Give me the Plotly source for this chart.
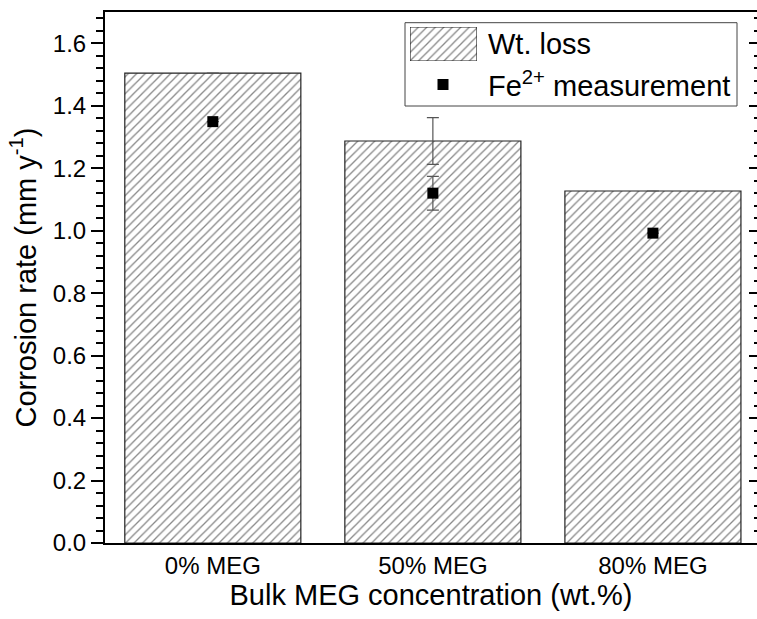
import plotly.graph_objects as go

# ---- data ----
categories = ["0% MEG", "50% MEG", "80% MEG"]
wt_loss = [1.504, 1.287, 1.127]
wt_loss_err = [None, 0.075, None]
fe_meas = [1.349, 1.120, 0.992]
fe_meas_err = [None, 0.054, None]
y_ticks = [0.0, 0.2, 0.4, 0.6, 0.8, 1.0, 1.2, 1.4, 1.6]

FONT = "Liberation Sans, Arial, sans-serif"
W, H = 757, 619
L, R, T, B = 105, 0, 12, 76
PW, PH = W - L - R, H - T - B


def px(xp):
    return (xp - L) / PW


def py(yp):
    return (H - B - yp) / PH


hatch = dict(shape="/", size=6, solidity=0.22, fgcolor="#111111", bgcolor="white")

fig = go.Figure()
fig.add_bar(
    x=categories, y=wt_loss, width=0.8,
    marker=dict(color="white", line=dict(color="#222222", width=1.2), pattern=hatch),
    error_y=dict(type="data", array=wt_loss_err, color="#555555", thickness=1.2, width=6),
    showlegend=False, name="Wt. loss",
)
fig.add_scatter(
    x=categories, y=fe_meas, mode="markers",
    marker=dict(symbol="square", size=11, color="black"),
    error_y=dict(type="data", array=fe_meas_err, color="#555555", thickness=1.2, width=6),
    showlegend=False, name="Fe2+ measurement",
)
# invisible trace to bind right-hand axis
fig.add_scatter(x=categories, y=fe_meas, yaxis="y2", mode="markers",
                marker=dict(opacity=0), showlegend=False, hoverinfo="skip")

# legend swatches (own small axes)
fig.add_bar(x=[0.5], y=[1], width=[1], xaxis="x3", yaxis="y3",
            marker=dict(color="white", line=dict(color="#222222", width=1.2), pattern=hatch),
            showlegend=False, hoverinfo="skip")
fig.add_scatter(x=[0.5], y=[0.5], xaxis="x4", yaxis="y4", mode="markers",
                marker=dict(symbol="square", size=11, color="black"),
                cliponaxis=False, showlegend=False, hoverinfo="skip")

fig.update_layout(
    width=W, height=H,
    margin=dict(l=L, r=R, t=T, b=B, pad=0),
    paper_bgcolor="white", plot_bgcolor="white",
    font=dict(family=FONT, color="black", size=24),
    bargap=0.2,
    xaxis=dict(
        range=[-0.49, 2.473], showgrid=False, zeroline=False,
        showline=True, linecolor="black", linewidth=2, mirror=True,
        ticks="", tickfont=dict(size=24, family=FONT), ticklabelstandoff=0,
        title=dict(text="Bulk MEG concentration (wt.%)", font=dict(size=29, family=FONT), standoff=5),
    ),
    yaxis=dict(
        range=[0, 1.7], showgrid=False, zeroline=False,
        showline=True, linecolor="black", linewidth=2,
        tickvals=y_ticks, tickformat=".1f",
        ticks="outside", ticklen=12, tickwidth=2, tickcolor="black",
        minor=dict(dtick=0.04, ticks="outside", ticklen=7, tickwidth=1.5, tickcolor="black", showgrid=False),
        tickfont=dict(size=24, family=FONT),
        title=dict(text="Corrosion rate (mm y<sup>-1</sup>)", font=dict(size=29, family=FONT), standoff=8),
    ),
    yaxis2=dict(
        overlaying="y", side="right", anchor="x", range=[0, 1.7],
        showgrid=False, zeroline=False, showline=False, showticklabels=False,
        tickvals=y_ticks, ticks="inside", ticklen=8, tickwidth=2, tickcolor="black",
        minor=dict(dtick=0.04, ticks="inside", ticklen=3, tickwidth=1.5, tickcolor="black", showgrid=False),
    ),
    xaxis3=dict(domain=[px(410), px(477)], range=[0, 1], visible=False, anchor="y3", fixedrange=True),
    yaxis3=dict(domain=[py(61), py(27)], range=[0, 1], visible=False, anchor="x3", fixedrange=True),
    xaxis4=dict(domain=[px(433), px(453)], range=[0, 1], visible=False, anchor="y4", fixedrange=True),
    yaxis4=dict(domain=[py(94.5), py(74.5)], range=[0, 1], visible=False, anchor="x4", fixedrange=True),
    shapes=[dict(type="rect", xref="paper", yref="paper",
                 x0=px(405), x1=px(737), y0=py(106), y1=py(22.7),
                 line=dict(color="#444444", width=1), fillcolor="rgba(0,0,0,0)", layer="below")],
    annotations=[
        dict(text="Wt. loss", xref="paper", yref="paper", x=px(486), y=py(44),
             xanchor="left", yanchor="middle", showarrow=False, font=dict(size=29, family=FONT)),
        dict(text="Fe<sup>2+</sup> measurement", xref="paper", yref="paper", x=px(486), y=py(84.5),
             xanchor="left", yanchor="middle", showarrow=False, font=dict(size=29, family=FONT)),
    ],
)

fig.write_html("out.html")
